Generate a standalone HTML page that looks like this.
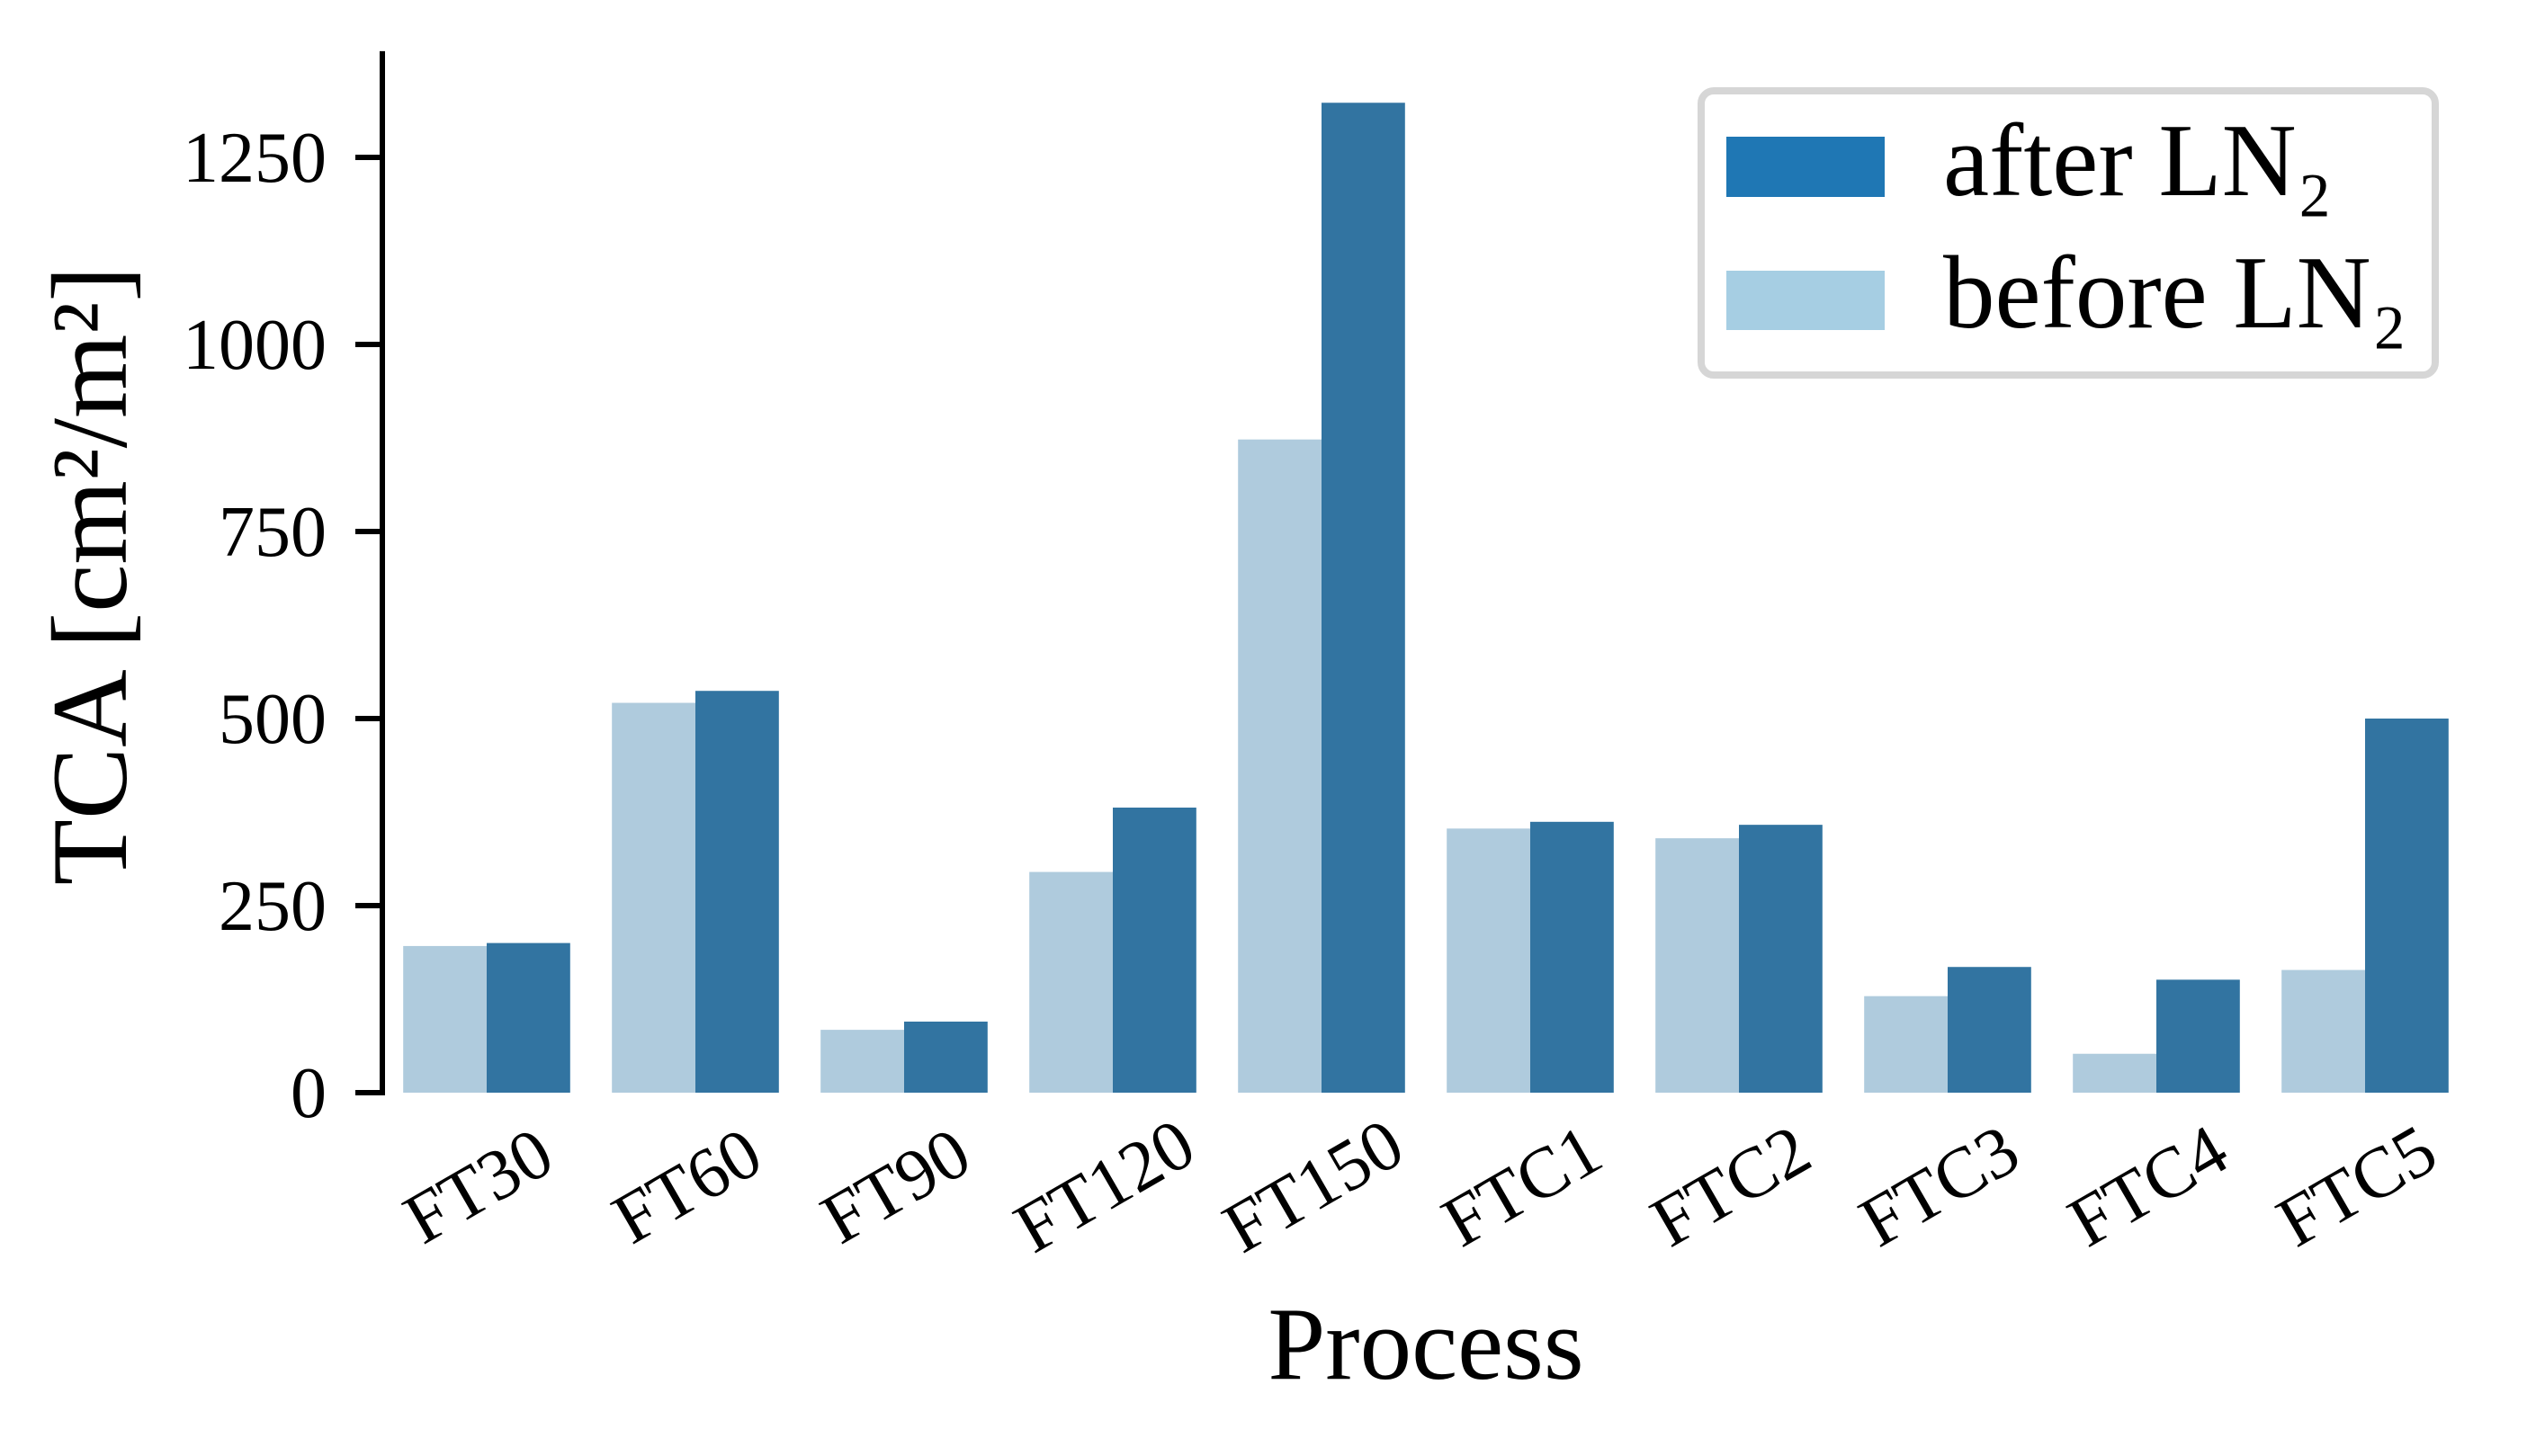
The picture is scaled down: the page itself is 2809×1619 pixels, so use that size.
<!DOCTYPE html>
<html><head><meta charset="utf-8"><style>
html,body{margin:0;padding:0;background:#fff;}
svg{display:block;font-family:"Liberation Serif","DejaVu Serif",serif;}
</style></head><body>
<svg id="chart" width="2809" height="1619" viewBox="0 0 2809 1619" xmlns="http://www.w3.org/2000/svg">
<g id="bars"></g>
<g id="yaxis"></g>
<g id="xaxis"></g>
<text x="0" y="0" font-size="120" text-anchor="middle" transform="translate(140,640) rotate(-90)">TCA [cm²/m²]</text>
<text x="1585" y="1533" font-size="115" text-anchor="middle">Process</text>
<g>
  <rect x="1891" y="101" width="816" height="316" rx="14" fill="#fff" stroke="#d6d6d6" stroke-width="8"/>
  <rect x="1919" y="152" width="176" height="67" fill="#1f77b4"/>
  <text x="2160" y="217" font-size="115">after LN₂</text>
  <rect x="1919" y="301" width="176" height="66" fill="#a6cee3"/>
  <text x="2160" y="364" font-size="115">before LN₂</text>
</g>
</svg>
<script>
const categories = ["FT30","FT60","FT90","FT120","FT150","FTC1","FTC2","FTC3","FTC4","FTC5"];
const beforeValues = [196,521,84,295,873,353,340,129,52,164];
const afterValues = [200,537,95,381,1323,362,358,168,151,500];
const yTicks = [0,250,500,750,1000,1250];
const yTickLabels = ["0","250","500","750","1000","1250"];

const NS = "http://www.w3.org/2000/svg";
const plotLeft = 425, plotRight = 2745, y0 = 1215, yPerUnit = 0.832, yMax = 1392;
const step = (plotRight - plotLeft) / categories.length;
const xCenter = i => plotLeft + step * (i + 0.5);
const yScale = v => y0 - v * yPerUnit;
const barW = step * 0.4;

function mk(tag, attrs, parent) {
  const el = document.createElementNS(NS, tag);
  for (const k in attrs) el.setAttribute(k, attrs[k]);
  parent.appendChild(el);
  return el;
}
const bars = document.getElementById("bars");
categories.forEach((c, i) => {
  const cx = xCenter(i);
  const b = mk("rect", {x: cx - barW, y: yScale(beforeValues[i]), width: barW, height: y0 - yScale(beforeValues[i]), fill: "#afcbdd"}, bars);
  
  
  const a = mk("rect", {x: cx, y: yScale(afterValues[i]), width: barW, height: y0 - yScale(afterValues[i]), fill: "#3274a1"}, bars);
  
  
});

const yax = document.getElementById("yaxis");
const spine = mk("line", {x1: plotLeft, y1: yScale(yMax), x2: plotLeft, y2: y0 + 3, stroke: "#000", "stroke-width": 6}, yax);


yTicks.forEach((v, i) => {
  const t = mk("line", {x1: plotLeft - 30, y1: yScale(v), x2: plotLeft, y2: yScale(v), stroke: "#000", "stroke-width": 6}, yax);
  
  
  const l = mk("text", {x: 363, y: yScale(v) + 27, "font-size": 80, "text-anchor": "end"}, yax);
  l.textContent = yTickLabels[i];
  
  
});

const xax = document.getElementById("xaxis");
categories.forEach((c, i) => {
  const cx = xCenter(i) - 9, cy = 1319;
  const l = mk("text", {x: cx, y: cy, "font-size": 80, "text-anchor": "middle", "dominant-baseline": "central", transform: "rotate(-30 " + cx + " " + cy + ")"}, xax);
  l.textContent = c;
  
  
});
</script>
</body></html>
